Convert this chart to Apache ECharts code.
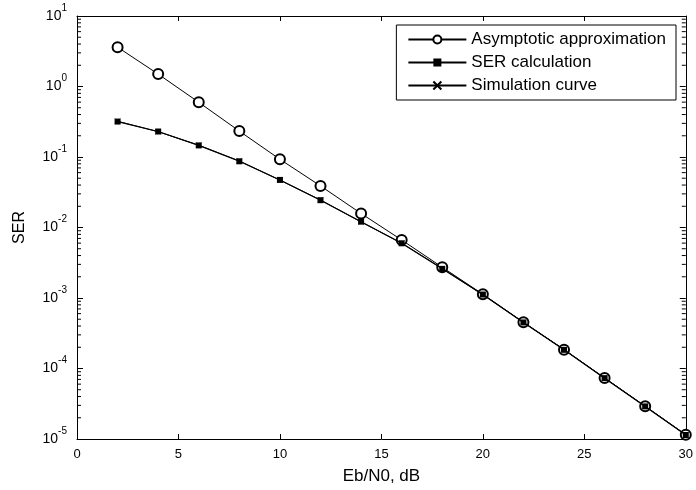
<!DOCTYPE html>
<html>
<head>
<meta charset="utf-8">
<script src="https://cdn.jsdelivr.net/npm/echarts@6/dist/echarts.min.js"></script>
<style>
  html, body { margin: 0; padding: 0; background: #fff; }
  #chart { width: 696px; height: 490px; }
</style>
</head>
<body>
<div id="chart"></div>
<script>
const ebn0 = [2, 4, 6, 8, 10, 12, 14, 16, 18, 20, 22, 24, 26, 28, 30]
const asymptotic = [3.61, 1.50, 0.597, 0.233, 0.0927, 0.0389, 0.0158, 0.00665, 0.00273, 0.00113, 0.000453, 0.000185, 7.35e-5, 2.92e-5, 1.15e-5]
const serCalc = [0.318, 0.230, 0.146, 0.0869, 0.0473, 0.0244, 0.0121, 0.00597, 0.00259, 0.00112, 0.000450, 0.000184, 7.3e-5, 2.9e-5, 1.14e-5]
const simulation = [0.322, 0.228, 0.147, 0.088, 0.0470, 0.0246, 0.0120, 0.0060, 0.00262, 0.00111, 0.000452, 0.000186, 7.32e-5, 2.91e-5, 1.15e-5]
const seriesNames = ['Asymptotic approximation', 'SER calculation', 'Simulation curve']
const yDecades = [1e-5, 1e-4, 1e-3, 1e-2, 1e-1, 1, 10]

const font = '"Liberation Sans", Arial, sans-serif'
const chart = echarts.init(document.getElementById('chart'))

const pairs = (ys) => ebn0.map((x, i) => [x, ys[i]])

const baseX = {
  type: 'value', min: 0, max: 30, interval: 5,
  axisLine: { show: true, onZero: false, lineStyle: { color: '#000', width: 1 } },
  axisTick: { show: true, inside: true, length: 5, lineStyle: { color: '#000' } },
  splitLine: { show: false }
}
const baseY = {
  type: 'log', logBase: 10, min: 1e-5, max: 10, interval: 1,
  axisLine: { show: true, onZero: false, lineStyle: { color: '#000', width: 1 } },
  axisTick: { show: true, inside: true, length: 6, lineStyle: { color: '#000' } },
  splitLine: { show: false }
}

const option = {
  animation: false,
  backgroundColor: '#fff',
  grid: { left: 77, right: 9, top: 16, bottom: 49 },
  legend: {
    orient: 'vertical',
    right: 20,
    top: 25,
    data: seriesNames,
    backgroundColor: '#fff',
    borderColor: '#000',
    borderWidth: 1,
    borderRadius: 0,
    padding: [6, 10, 6, 11],
    itemGap: 6,
    itemWidth: 58,
    itemHeight: 10,
    textStyle: { fontFamily: font, fontSize: 17, color: '#000' }
  },
  xAxis: [
    Object.assign({}, baseX, {
      position: 'bottom',
      name: 'Eb/N0, dB',
      nameLocation: 'middle',
      nameGap: 29,
      nameTextStyle: { fontFamily: font, fontSize: 17, color: '#000' },
      axisLabel: { fontFamily: font, fontSize: 13, color: '#000', margin: 9 }
    }),
    Object.assign({}, baseX, { position: 'top', axisLabel: { show: false } })
  ],
  yAxis: [
    Object.assign({}, baseY, {
      position: 'left',
      name: 'SER',
      nameLocation: 'middle',
      nameGap: 49,
      nameTextStyle: { fontFamily: font, fontSize: 16, color: '#000' },
      axisLabel: {
        margin: 10,
        formatter: (v) => '{b|10}{e|' + Math.round(Math.log10(v)) + '}',
        rich: {
          b: { fontFamily: font, fontSize: 14, lineHeight: 14, color: '#000', verticalAlign: 'bottom' },
          e: { fontFamily: font, fontSize: 10, lineHeight: 10, color: '#000', verticalAlign: 'bottom', padding: [0, 0, 10, 0] }
        }
      }
    }),
    Object.assign({}, baseY, { position: 'right', axisLabel: { show: false } })
  ],
  series: [
    {
      name: seriesNames[0], type: 'line', data: pairs(asymptotic),
      symbol: 'emptyCircle', symbolSize: 10,
      lineStyle: { color: '#000', width: 1 },
      itemStyle: { color: '#000', borderColor: '#000', borderWidth: 1 },
      z: 2
    },
    {
      name: seriesNames[1], type: 'line', data: pairs(serCalc),
      symbol: 'rect', symbolSize: 6,
      lineStyle: { color: '#000', width: 1.2 },
      itemStyle: { color: '#000' },
      z: 3
    },
    {
      name: seriesNames[2], type: 'line', data: pairs(simulation),
      symbol: 'path://M0,0L10,10M10,0L0,10', symbolSize: 5,
      lineStyle: { color: '#000', width: 1 },
      itemStyle: { color: 'none', borderColor: '#000', borderWidth: 1 },
      z: 4
    }
  ]
}

chart.setOption(option)

// log-axis minor ticks (2..9 per decade) on left and right, placed through the axis scale
function drawMinorTicks() {
  const elements = []
  const xl = chart.convertToPixel({ xAxisIndex: 0 }, 0)
  const xr = chart.convertToPixel({ xAxisIndex: 0 }, 30)
  for (let d = 0; d < yDecades.length - 1; d++) {
    for (let k = 2; k <= 9; k++) {
      const y = chart.convertToPixel({ yAxisIndex: 0 }, yDecades[d] * k)
      elements.push({ type: 'line', shape: { x1: xl, y1: y, x2: xl + 4, y2: y }, style: { stroke: '#000', lineWidth: 1 }, silent: true })
      elements.push({ type: 'line', shape: { x1: xr - 4, y1: y, x2: xr, y2: y }, style: { stroke: '#000', lineWidth: 1 }, silent: true })
    }
  }
  chart.setOption({ graphic: elements })
}
drawMinorTicks()
</script>
</body>
</html>
